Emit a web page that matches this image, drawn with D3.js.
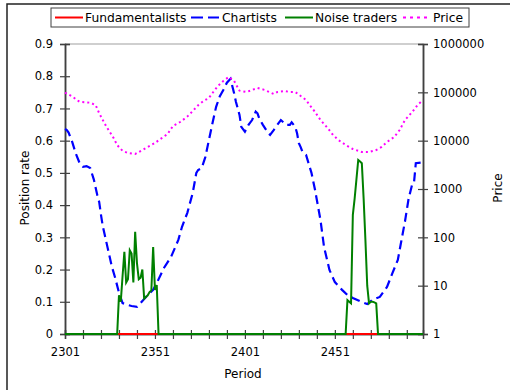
<!DOCTYPE html>
<html><head><meta charset="utf-8">
<script src="https://cdn.jsdelivr.net/npm/d3@7"></script>
<style>body{margin:0;background:#fff}svg{display:block}text{font-family:"DejaVu Sans",sans-serif;fill:#000}</style>
</head><body>
<svg id="c" width="510" height="390"></svg>
<script>
const xTickValues = d3.range(2301, 2500, 10);
const xLabelValues = [2301, 2351, 2401, 2451];
const leftTicks = [0,0.1,0.2,0.3,0.4,0.5,0.6,0.7,0.8,0.9];
const rightTicks = [1,10,100,1000,10000,100000,1000000];
const seriesNames = ["Fundamentalists","Chartists","Noise traders","Price"];

const fundamentalists = [[2301,0],[2500,0]];
const chartists = [[2301,0.636],[2302,0.633],[2303,0.625],[2305,0.596],[2307,0.56],[2309,0.532],[2311,0.519],[2313,0.521],[2315,0.515],[2317,0.48],[2318,0.455],[2319,0.43],[2320,0.41],[2321,0.37],[2322,0.335],[2325,0.26],[2327,0.21],[2329,0.172],[2331,0.128],[2333,0.096],[2336,0.09],[2338,0.087],[2341,0.084],[2343,0.096],[2346,0.115],[2350,0.137],[2352,0.158],[2356,0.205],[2360,0.24],[2364,0.292],[2366,0.332],[2369,0.376],[2372,0.438],[2374,0.5],[2375,0.509],[2377,0.515],[2379,0.549],[2381,0.602],[2383,0.655],[2385,0.705],[2387,0.737],[2389,0.757],[2391,0.78],[2393,0.792],[2395,0.747],[2396,0.721],[2398,0.68],[2399,0.643],[2401,0.628],[2403,0.649],[2405,0.664],[2407,0.69],[2408,0.685],[2409,0.669],[2411,0.649],[2414,0.623],[2415,0.618],[2417,0.633],[2419,0.649],[2421,0.664],[2423,0.654],[2424,0.649],[2426,0.649],[2427,0.657],[2429,0.643],[2430,0.623],[2431,0.592],[2432,0.58],[2433,0.565],[2435,0.556],[2438,0.5],[2440,0.447],[2441,0.416],[2443,0.354],[2445,0.27],[2448,0.199],[2451,0.161],[2455,0.137],[2458,0.121],[2461,0.112],[2466,0.099],[2469,0.093],[2472,0.106],[2476,0.115],[2480,0.146],[2483,0.189],[2486,0.23],[2488,0.29],[2490,0.35],[2492,0.42],[2494,0.465],[2495,0.47],[2496,0.53],[2499,0.532]];
const noiseTraders = [[2301,0],[2330,0],[2331,0.12],[2332,0.10],[2333,0.18],[2334,0.255],[2335,0.16],[2336,0.17],[2337,0.26],[2338,0.25],[2339,0.16],[2340,0.317],[2341,0.22],[2342,0.17],[2343,0.175],[2344,0.2],[2345,0.11],[2346,0.115],[2347,0.12],[2348,0.13],[2349,0.135],[2350,0.27],[2351,0.137],[2352,0.152],[2353,0],[2457,0],[2458,0.105],[2459,0.10],[2460,0.095],[2461,0.37],[2462,0.42],[2463,0.48],[2464,0.54],[2465,0.535],[2466,0.53],[2467,0.42],[2468,0.29],[2469,0.15],[2470,0.095],[2471,0.10],[2472,0.1],[2473,0.098],[2474,0.095],[2475,0],[2500,0]];
const price = [[2301,99000],[2305,82000],[2309,64000],[2315,61000],[2318,54700],[2320,37000],[2322,26800],[2324,19500],[2328,11400],[2330,8100],[2333,6150],[2336,5560],[2340,5300],[2344,6400],[2347,7400],[2351,8950],[2354,10800],[2358,13700],[2361,20100],[2365,24300],[2369,31500],[2372,41100],[2375,54000],[2378,66200],[2381,76400],[2383,96900],[2386,135000],[2389,172000],[2392,208000],[2395,172000],[2398,108000],[2402,101600],[2405,112000],[2408,123000],[2412,112000],[2417,92500],[2419,101600],[2423,106600],[2426,101600],[2429,101600],[2432,84000],[2435,69500],[2437,54700],[2440,39200],[2443,26800],[2447,18300],[2450,13100],[2453,10300],[2457,8140],[2461,6730],[2466,5830],[2470,5830],[2474,6410],[2477,7400],[2480,9390],[2484,11900],[2487,16600],[2490,26800],[2494,39200],[2497,54700],[2500,69500]];

const svg = d3.select("#c");
const L=65,R=423,T=44,B=334;
const x = d3.scaleLinear().domain([2301,2500]).range([L,R]);
const yL = d3.scaleLinear().domain([0,0.9]).range([B,T]);
const yR = d3.scaleLog().domain([1,1e6]).range([B,T]);

// chart border
svg.append("path").attr("d","M7,392V4H512").attr("fill","none").attr("stroke","#222").attr("stroke-width",1.5);
// plot top border
svg.append("line").attr("x1",L).attr("x2",R).attr("y1",T).attr("y2",T).attr("stroke","#a0a0a0").attr("stroke-width",1.2);

function styleAxis(g){
  g.select(".domain").attr("stroke","#404040").attr("stroke-width",1.5);
  g.selectAll(".tick line").attr("stroke","#404040").attr("stroke-width",1.2);
  g.selectAll("text").attr("font-size","11.5px").attr("font-family","DejaVu Sans");
}
// left axis
svg.append("g").attr("transform",`translate(${L},0)`)
  .call(d3.axisLeft(yL).tickValues(leftTicks).tickSize(5).tickPadding(7).tickFormat(d=>d===0?"0":d3.format(".1f")(d)))
  .call(styleAxis);
svg.append("g").attr("transform",`translate(${L},0)`)
  .call(d3.axisRight(yL).tickValues(leftTicks).tickSize(5).tickFormat(""))
  .call(styleAxis);
// right axis
svg.append("g").attr("transform",`translate(${R},0)`)
  .call(d3.axisRight(yR).tickValues(rightTicks).tickSize(5).tickPadding(5).tickFormat(d=>String(d)))
  .call(styleAxis);
svg.append("g").attr("transform",`translate(${R},0)`)
  .call(d3.axisLeft(yR).tickValues(rightTicks).tickSize(5).tickFormat(""))
  .call(styleAxis);
// x axis
svg.append("g").attr("transform",`translate(0,${B})`)
  .call(d3.axisBottom(x).tickValues(xTickValues).tickSize(5).tickPadding(9).tickFormat(d=>xLabelValues.includes(d)?String(d):""))
  .call(styleAxis);
svg.append("g").attr("transform",`translate(0,${B})`)
  .call(d3.axisTop(x).tickValues(xTickValues).tickSize(4).tickFormat(""))
  .call(styleAxis);

// titles
svg.append("text").attr("x",243).attr("y",378).attr("text-anchor","middle").attr("font-size","12px").text("Period");
svg.append("text").attr("transform","translate(29,188) rotate(-90)").attr("text-anchor","middle").attr("font-size","12px").text("Position rate");
svg.append("text").attr("transform","translate(502,188) rotate(-90)").attr("text-anchor","middle").attr("font-size","12px").text("Price");

const lineL = d3.line().x(d=>x(d[0])).y(d=>yL(d[1]));
const lineR = d3.line().x(d=>x(d[0])).y(d=>yR(d[1]));
const styles = [
  {color:"#ff0000", dash:null, w:2},
  {color:"#0000ff", dash:"9,5", w:2.2},
  {color:"#008000", dash:null, w:2},
  {color:"#ff00ff", dash:"2,3", w:2}
];
svg.append("path").datum(fundamentalists).attr("d",lineL).attr("fill","none").attr("stroke",styles[0].color).attr("stroke-width",styles[0].w);
svg.append("path").datum(chartists).attr("d",lineL).attr("fill","none").attr("stroke",styles[1].color).attr("stroke-width",styles[1].w).attr("stroke-dasharray",styles[1].dash);
svg.append("path").datum(noiseTraders).attr("d",lineL).attr("fill","none").attr("stroke",styles[2].color).attr("stroke-width",styles[2].w).attr("stroke-linejoin","miter");
svg.append("path").datum(price).attr("d",lineR).attr("fill","none").attr("stroke",styles[3].color).attr("stroke-width",styles[3].w).attr("stroke-dasharray",styles[3].dash);

// legend
const lg = svg.append("g");
lg.append("rect").attr("x",51).attr("y",8).attr("width",418).attr("height",19).attr("fill","#fff").attr("stroke","#404040").attr("stroke-width",1);
const lx = [55,191,285,403];
const tx = [85,222,315,433];
seriesNames.forEach((n,i)=>{
  lg.append("line").attr("x1",lx[i]).attr("x2",lx[i]+28).attr("y1",17.5).attr("y2",17.5)
    .attr("stroke",styles[i].color).attr("stroke-width",2).attr("stroke-dasharray", i===1?"12,5":(i===3?"3,4":null));
  lg.append("text").attr("x",tx[i]).attr("y",22).attr("font-size","12.3px").text(n);
});
</script>
</body></html>
